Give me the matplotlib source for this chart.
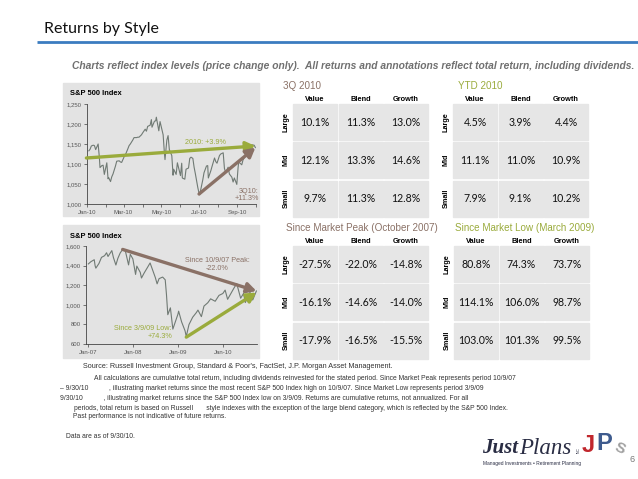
import pandas as pd
import matplotlib
matplotlib.use("Agg")
import matplotlib.pyplot as plt
import matplotlib.dates as mdates
from matplotlib.patches import Rectangle
from matplotlib.ticker import FuncFormatter, MultipleLocator

# S&P 500 closes, 2010 year to date
ytd_dates = ["2010-01-04", "2010-01-06", "2010-01-08", "2010-01-11", "2010-01-13", "2010-01-15",
             "2010-01-19", "2010-01-21", "2010-01-22", "2010-01-25", "2010-01-27", "2010-01-29",
             "2010-02-02", "2010-02-04", "2010-02-05", "2010-02-08", "2010-02-10", "2010-02-12",
             "2010-02-16", "2010-02-18", "2010-02-22", "2010-02-24", "2010-02-26", "2010-03-02",
             "2010-03-04", "2010-03-08", "2010-03-10", "2010-03-12", "2010-03-16", "2010-03-18",
             "2010-03-22", "2010-03-24", "2010-03-26", "2010-03-30", "2010-04-01", "2010-04-05",
             "2010-04-07", "2010-04-09", "2010-04-13", "2010-04-15", "2010-04-16", "2010-04-20",
             "2010-04-22", "2010-04-23", "2010-04-27", "2010-04-29", "2010-05-04", "2010-05-06",
             "2010-05-07", "2010-05-10", "2010-05-12", "2010-05-14", "2010-05-18", "2010-05-20",
             "2010-05-21", "2010-05-25", "2010-05-27", "2010-06-01", "2010-06-03", "2010-06-04",
             "2010-06-08", "2010-06-10", "2010-06-14", "2010-06-16", "2010-06-18", "2010-06-21",
             "2010-06-23", "2010-06-25", "2010-06-29", "2010-07-01", "2010-07-02", "2010-07-07",
             "2010-07-09", "2010-07-13", "2010-07-15", "2010-07-16", "2010-07-20", "2010-07-22",
             "2010-07-26", "2010-07-28", "2010-07-30", "2010-08-03", "2010-08-05", "2010-08-09",
             "2010-08-11", "2010-08-13", "2010-08-17", "2010-08-19", "2010-08-23", "2010-08-25",
             "2010-08-27", "2010-08-31", "2010-09-02", "2010-09-03", "2010-09-08", "2010-09-10",
             "2010-09-14", "2010-09-16", "2010-09-20", "2010-09-22", "2010-09-24", "2010-09-28",
             "2010-09-30"]
ytd_close = [1133, 1137, 1145, 1147, 1146, 1136, 1150, 1116, 1091, 1096, 1097, 1074,
             1103, 1063, 1066, 1056, 1068, 1075, 1095, 1107, 1108, 1105, 1104, 1118,
             1123, 1138, 1146, 1150, 1160, 1166, 1166, 1167, 1167, 1173, 1178, 1187,
             1182, 1194, 1197, 1211, 1192, 1207, 1208, 1217, 1183, 1206, 1173, 1128,
             1111, 1160, 1171, 1136, 1121, 1072, 1087, 1074, 1103, 1071, 1102, 1065,
             1062, 1087, 1090, 1114, 1117, 1114, 1092, 1076, 1041, 1027, 1023, 1060,
             1078, 1095, 1096, 1065, 1083, 1094, 1115, 1106, 1102, 1121, 1125, 1128,
             1089, 1079, 1092, 1075, 1067, 1055, 1065, 1049, 1090, 1105, 1098, 1110,
             1121, 1124, 1143, 1134, 1148, 1147, 1141]

# S&P 500 closes, 2007 to 3Q 2010
long_dates = ["2007-01-03", "2007-01-24", "2007-02-20", "2007-02-27", "2007-03-05", "2007-03-30",
              "2007-04-20", "2007-05-15", "2007-05-31", "2007-06-12", "2007-07-13", "2007-07-26",
              "2007-08-15", "2007-08-31", "2007-09-19", "2007-10-09", "2007-10-31", "2007-11-26",
              "2007-12-10", "2007-12-31", "2008-01-22", "2008-02-01", "2008-02-29", "2008-03-10",
              "2008-03-31", "2008-04-30", "2008-05-19", "2008-06-30", "2008-07-15", "2008-07-31",
              "2008-08-29", "2008-09-19", "2008-09-29", "2008-10-10", "2008-10-31", "2008-11-20",
              "2008-12-31", "2009-01-06", "2009-01-30", "2009-02-27", "2009-03-09", "2009-03-31",
              "2009-04-30", "2009-05-29", "2009-06-12", "2009-07-10", "2009-07-31", "2009-08-31",
              "2009-09-23", "2009-10-30", "2009-11-30", "2009-12-31", "2010-01-19", "2010-02-08",
              "2010-03-31", "2010-04-23", "2010-05-25", "2010-06-18", "2010-07-02", "2010-08-09",
              "2010-08-31", "2010-09-30"]
long_close = [1417, 1440, 1460, 1399, 1374, 1421, 1484, 1501, 1531, 1493, 1553, 1482,
              1406, 1474, 1529, 1565, 1549, 1407, 1515, 1468, 1310, 1395, 1331, 1273,
              1323, 1386, 1427, 1280, 1214, 1267, 1283, 1255, 1106, 899, 969, 752,
              903, 935, 826, 735, 677, 798, 873, 919, 946, 879, 987, 1021,
              1061, 1036, 1096, 1115, 1150, 1056, 1169, 1217, 1067, 1117, 1023, 1128,
              1049, 1141]

# annotation arrows (start date, start level, end date, end level)
ytd_arrow = ("2009-12-31", 1115, "2010-09-30", 1145)
q3_arrow = ("2010-07-01", 1025, "2010-09-30", 1141)
peak_arrow = ("2007-10-09", 1565, "2010-09-30", 1141)
low_arrow = ("2009-03-09", 670, "2010-09-30", 1125)

# style box returns, %
row_labels = ["Large", "Mid", "Small"]
col_labels = ["Value", "Blend", "Growth"]
table_titles = ["3Q 2010", "YTD 2010", "Since Market Peak (October 2007)", "Since Market Low (March 2009)"]
q3_2010 = [[10.1, 11.3, 13.0], [12.1, 13.3, 14.6], [9.7, 11.3, 12.8]]
ytd_2010 = [[4.5, 3.9, 4.4], [11.1, 11.0, 10.9], [7.9, 9.1, 10.2]]
since_peak = [[-27.5, -22.0, -14.8], [-16.1, -14.6, -14.0], [-17.9, -16.5, -15.5]]
since_low = [[80.8, 74.3, 73.7], [114.1, 106.0, 98.7], [103.0, 101.3, 99.5]]

OLIVE = "#9aab3c"
BROWN = "#8a7166"
GRAYTXT = "#555555"
LINEC = "#707a74"
PANEL = "#e3e3e3"
CELL = "#e6e6e6"
SANS = "Liberation Sans"

W, H = 638, 479
fig = plt.figure(figsize=(6.38, 4.79), dpi=100)

# full-figure overlay in pixel coordinates
bg = fig.add_axes([0, 0, 1, 1])
bg.set_xlim(0, W)
bg.set_ylim(H, 0)
bg.axis("off")


def px_axes(x0, y0, x1, y1):
    return fig.add_axes([x0 / W, 1 - y1 / H, (x1 - x0) / W, (y1 - y0) / H])


# title
bg.text(44, 29, "Returns by Style", fontsize=11.5, family="Lato", va="center", color="#111111")
bg.plot([37, W], [42, 42], color="#3b7cc0", lw=2, solid_capstyle="butt")
bg.text(72, 66, "Charts reflect index levels (price change only).  All returns and annotations reflect "
        "total return, including dividends.", fontsize=7.35, family=SANS, style="italic",
        weight="bold", color="#707070", va="center")

# chart panels
for top in (83, 225):
    bg.add_patch(Rectangle((63, top), 196, 133, color=PANEL, zorder=0))
bg.text(70, 93, "S&P 500 Index", fontsize=5.4, weight="bold", family=SANS, va="center")
bg.text(70, 236, "S&P 500 Index", fontsize=5.4, weight="bold", family=SANS, va="center")


def style_axis(ax):
    ax.set_facecolor("none")
    for s in ("top", "right"):
        ax.spines[s].set_visible(False)
    for s in ("left", "bottom"):
        ax.spines[s].set_color("#444444")
        ax.spines[s].set_linewidth(0.6)
    ax.tick_params(length=2.5, width=0.5, color="#444444", labelsize=4.3,
                   labelcolor=GRAYTXT, pad=1.5)
    for lab in ax.get_xticklabels() + ax.get_yticklabels():
        lab.set_family(SANS)
    ax.yaxis.set_major_formatter(FuncFormatter(lambda v, p: f"{v:,.0f}"))


def arrow(ax, spec, color):
    d0, v0, d1, v1 = spec
    ax.annotate("", xy=(mdates.date2num(pd.Timestamp(d1)), v1),
                xytext=(mdates.date2num(pd.Timestamp(d0)), v0),
                arrowprops=dict(arrowstyle="-|>,head_length=0.55,head_width=0.3", lw=2.4,
                                color=color, shrinkA=0, shrinkB=0), annotation_clip=False)


# chart 1: 2010
ax1 = px_axes(87, 104, 256, 204)
ax1.plot(pd.to_datetime(ytd_dates), ytd_close, color=LINEC, lw=0.8)
ax1.set_xlim(pd.Timestamp("2010-01-01"), pd.Timestamp("2010-10-01"))
ax1.set_ylim(1000, 1250)
ax1.yaxis.set_major_locator(MultipleLocator(50))
ax1.xaxis.set_major_locator(mdates.MonthLocator(bymonth=[1, 3, 5, 7, 9]))
ax1.xaxis.set_minor_locator(mdates.MonthLocator())
ax1.xaxis.set_major_formatter(mdates.DateFormatter("%b-%y"))
style_axis(ax1)
ax1.tick_params(which="minor", length=2, width=0.5, color="#444444")
arrow(ax1, ytd_arrow, OLIVE)
arrow(ax1, q3_arrow, BROWN)
bg.text(205, 143, "2010: +3.9%", fontsize=5.2, family=SANS, color=OLIVE, ha="center", va="center")
bg.text(259, 195, "3Q10:\n+11.3%", fontsize=5.2, family=SANS, color=BROWN, ha="right", va="center",
        linespacing=1.1)

# chart 2: 2007 - 2010
ax2 = px_axes(86, 246, 257, 344)
ax2.plot(pd.to_datetime(long_dates), long_close, color=LINEC, lw=0.8)
ax2.set_xlim(pd.Timestamp("2006-12-15"), pd.Timestamp("2010-10-05"))
ax2.set_ylim(600, 1600)
ax2.yaxis.set_major_locator(MultipleLocator(200))
ax2.xaxis.set_major_locator(mdates.YearLocator())
ax2.xaxis.set_major_formatter(mdates.DateFormatter("%b-%y"))
style_axis(ax2)
arrow(ax2, peak_arrow, BROWN)
arrow(ax2, low_arrow, OLIVE)
bg.text(217, 265, "Since 10/9/07 Peak:\n-22.0%", fontsize=5.2, family=SANS, color=BROWN,
        ha="center", va="center", linespacing=1.2)
bg.text(172, 333, "Since 3/9/09 Low:\n+74.3%", fontsize=5.2, family=SANS, color=OLIVE,
        ha="right", va="center", linespacing=1.2)

# style boxes
tables = [q3_2010, ytd_2010, since_peak, since_low]
title_colors = [BROWN, OLIVE, BROWN, OLIVE]
origins = [(293, 104), (453, 104), (293, 246), (454, 246)]
title_x = [283, 458, 286, 455]
CW, CH, DX, DY = 44, 36, 45.5, 38.3
for t, vals in enumerate(tables):
    x0, y0 = origins[t]
    bg.text(title_x[t], y0 - 18.5, table_titles[t], fontsize=7.1, family=SANS, color=title_colors[t],
            va="center")
    for j, c in enumerate(col_labels):
        bg.text(x0 + j * DX + CW / 2, y0 - 5, c, fontsize=5.3, family=SANS, weight="bold",
                ha="center", va="center")
    for i, r in enumerate(row_labels):
        bg.text(x0 - 7, y0 + i * DY + CH / 2, r, fontsize=5.2, family=SANS, weight="bold",
                rotation=90, ha="center", va="center")
        for j in range(3):
            bg.add_patch(Rectangle((x0 + j * DX, y0 + i * DY), CW, CH, color=CELL, zorder=0))
            bg.text(x0 + j * DX + CW / 2, y0 + i * DY + CH / 2, f"{vals[i][j]:.1f}%",
                    fontsize=7.6, family="Lato", ha="center", va="center", color="#111111")

# footnotes
fn = dict(fontsize=4.85, family=SANS, color="#333333", va="center")
bg.text(83, 367, "Source: Russell Investment Group, Standard & Poor's, FactSet, J.P. Morgan Asset Management.",
        **dict(fn, fontsize=5.2))
bg.text(94, 378, "All calculations are cumulative total return, including dividends reinvested for the "
        "stated period. Since Market Peak represents period 10/9/07", **fn)
bg.text(60, 388, "\u2013 9/30/10           , illustrating market returns since the most recent S&P 500 "
        "Index high on 10/9/07. Since Market Low represents period 3/9/09", **fn)
bg.text(60, 398, "9/30/10           , illustrating market returns since the S&P 500 Index low on 3/9/09. "
        "Returns are cumulative returns, not annualized. For all", **fn)
bg.text(74, 408, "periods, total return is based on Russell       style indexes with the exception of the "
        "large blend category, which is reflected by the S&P 500 Index.", **fn)
bg.text(73, 417, "Past performance is not indicative of future returns.", **fn)
bg.text(66, 436, "Data are as of 9/30/10.", **fn)

# logo and page number
just = bg.text(482, 448, "Just", fontsize=15, family="Liberation Serif", style="italic", weight="bold",
               color="#2a2d44", va="center")
bg.annotate("Plans", xy=(1, 0.5), xycoords=just, xytext=(1, 0), textcoords="offset points",
            fontsize=16.5, family="Liberation Serif", style="italic", color="#2a2d44", va="center")
bg.text(579, 450, "INC", fontsize=2.5, family=SANS, rotation=90, color="#2a2d44", va="center", ha="center")
bg.text(582, 446, "J", fontsize=17, family=SANS, weight="bold", color="#c1272d", va="center")
bg.text(596, 444, "P", fontsize=17, family=SANS, weight="bold", color="#3e5b8e", va="center")
bg.text(612, 449, "S", fontsize=11, family=SANS, weight="bold", color="#a0a0a0", va="center",
        rotation=-25)
bg.text(483, 464, "Managed Investments \u2022 Retirement Planning", fontsize=3.5, family=SANS,
        color="#2a2d44", va="center")
bg.text(630, 459, "6", fontsize=6.5, family=SANS, color="#777777", va="center")

fig.savefig("out.png", dpi=100)
